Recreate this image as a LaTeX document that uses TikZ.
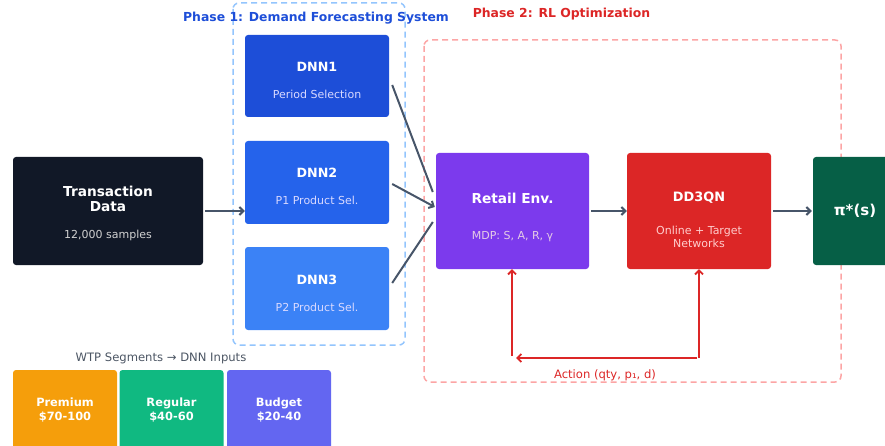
\documentclass[tikz,border=0pt]{standalone}
\usepackage{fontspec}
\setmainfont{DejaVu Sans}
\usetikzlibrary{calc, arrows.meta}
\definecolor{dataBg}{HTML}{111827}
\definecolor{dnnA}{HTML}{1D4ED8}
\definecolor{dnnB}{HTML}{2563EB}
\definecolor{dnnC}{HTML}{3B82F6}
\definecolor{envBg}{HTML}{7C3AED}
\definecolor{agentBg}{HTML}{DC2626}
\definecolor{policyBg}{HTML}{065F46}
\definecolor{premBg}{HTML}{F59E0B}
\definecolor{regBg}{HTML}{10B981}
\definecolor{budBg}{HTML}{6366F1}
\definecolor{flow}{HTML}{475569}
\definecolor{phaseOneLine}{HTML}{93C5FD}
\definecolor{phaseTwoLine}{HTML}{FCA5A5}
\definecolor{noteGray}{HTML}{4B5563}
\tikzset{>={Straight Barb[length=4pt, width=8pt]}}

\begin{document}
\begin{tikzpicture}[x=1pt, y=-1pt,
  block/.style={rounded corners=3pt, inner sep=0pt, text=white},
  ttl/.style={font=\bfseries\fontsize{12.7}{15}\selectfont, text=white},
  sub/.style={font=\fontsize{11}{13.5}\selectfont, align=center},
  phase/.style={dashed, dash pattern=on 6pt off 4pt, line width=1.5pt, rounded corners=6pt},
  flowarrow/.style={->, draw=flow, line width=2pt},
  actarrow/.style={->, draw=agentBg, line width=1.8pt},
  segment/.style={block, minimum width=104pt, minimum height=80pt, align=center,
    font=\bfseries\fontsize{11.4}{14}\selectfont}]
\useasboundingbox (0,0) rectangle (885,446);

% phase frames
\draw[phase, draw=phaseOneLine] (233,3) rectangle (405,345);
\draw[phase, draw=phaseTwoLine] (424,40) rectangle (841,382);
\node[font=\bfseries\fontsize{12.4}{15}\selectfont, text=dnnA] (phaseOne) at (316,18) {Phase 1: Demand Forecasting System};
\node[font=\bfseries\fontsize{12.4}{15}\selectfont, text=agentBg] (phaseTwo) at (561.5,14) {Phase 2: RL Optimization};

% blocks
\node[block, fill=dataBg, minimum width=190pt, minimum height=108pt,
  label={[ttl, font=\bfseries\fontsize{13.7}{15}\selectfont, align=center, yshift=12pt]center:Transaction\\Data},
  label={[sub, text=gray!35, yshift=-24pt]center:12,000 samples}] (data) at (108,211) {};
\node[block, fill=dnnA, minimum width=144pt, minimum height=82pt,
  label={[ttl, yshift=9pt]center:DNN1},
  label={[sub, text=blue!15, yshift=-18pt]center:Period Selection}] (dnn1) at (317,76) {};
\node[block, fill=dnnB, minimum width=144pt, minimum height=83pt,
  label={[ttl, yshift=9.5pt]center:DNN2},
  label={[sub, text=blue!15, yshift=-17.5pt]center:P1 Product Sel.}] (dnn2) at (317,182.5) {};
\node[block, fill=dnnC, minimum width=144pt, minimum height=83pt,
  label={[ttl, yshift=8.5pt]center:DNN3},
  label={[sub, text=blue!15, yshift=-18.5pt]center:P2 Product Sel.}] (dnn3) at (317,288.5) {};
\node[block, fill=envBg, minimum width=153pt, minimum height=116pt,
  label={[ttl, font=\bfseries\fontsize{13.7}{15}\selectfont, yshift=13pt]center:Retail Env.},
  label={[sub, text=violet!20, yshift=-26pt]center:MDP: S, A, R, γ}] (env) at (512.5,211) {};
\node[block, fill=agentBg, minimum width=144pt, minimum height=116pt,
  label={[ttl, font=\bfseries\fontsize{12.9}{15}\selectfont, yshift=13pt]center:DD3QN},
  label={[sub, text=red!20, yshift=-26pt]center:Online + Target\\Networks}] (dd3qn) at (699,211) {};
\node[block, fill=policyBg, minimum width=84pt, minimum height=108pt,
  font=\bfseries\fontsize{15}{18}\selectfont] (policy) at (855,211) {π*(s)};

% flows
\draw[flowarrow] (data.east) ++(2,0) coordinate (dataOut) -- (dnn2.west |- dataOut);
\draw[draw=flow, line width=2pt] ([shift={(3,9)}]dnn1.east) -- ([shift={(-3,-19)}]env.west);
\draw[flowarrow] ([shift={(3,1.5)}]dnn2.east) -- ([shift={(-1,-4)}]env.west);
\draw[draw=flow, line width=2pt] ([shift={(3,-5.5)}]dnn3.east) -- ([shift={(-3,11)}]env.west);
\draw[flowarrow] ([xshift=2pt]env.east) -- (dd3qn.west);
\draw[flowarrow] ([xshift=2pt]dd3qn.east) -- ([xshift=-1pt]policy.west);

% action feedback
\coordinate (actR) at (699,358);
\coordinate (actL) at (512,356);
\draw[actarrow] (actR) -- (dd3qn.south);
\draw[actarrow] ([xshift=-2pt]actR) -- ([xshift=4pt]actL |- actR);
\draw[actarrow] (actL) -- (actL |- env.south);
\node[font=\fontsize{11.6}{14}\selectfont, text=agentBg] (actLabel) at (605,375) {Action (qty, p₁, d)};

% wtp segments
\node[font=\fontsize{11.6}{14}\selectfont, text=noteGray] (wtpNote) at (161,358) {WTP Segments → DNN Inputs};
\node[segment, fill=premBg] (premium) at (65,410) {Premium\\\$70-100};
\node[segment, fill=regBg] (regular) at (171.5,410) {Regular\\\$40-60};
\node[segment, fill=budBg] (budget) at (279,410) {Budget\\\$20-40};
\end{tikzpicture}
\end{document}
